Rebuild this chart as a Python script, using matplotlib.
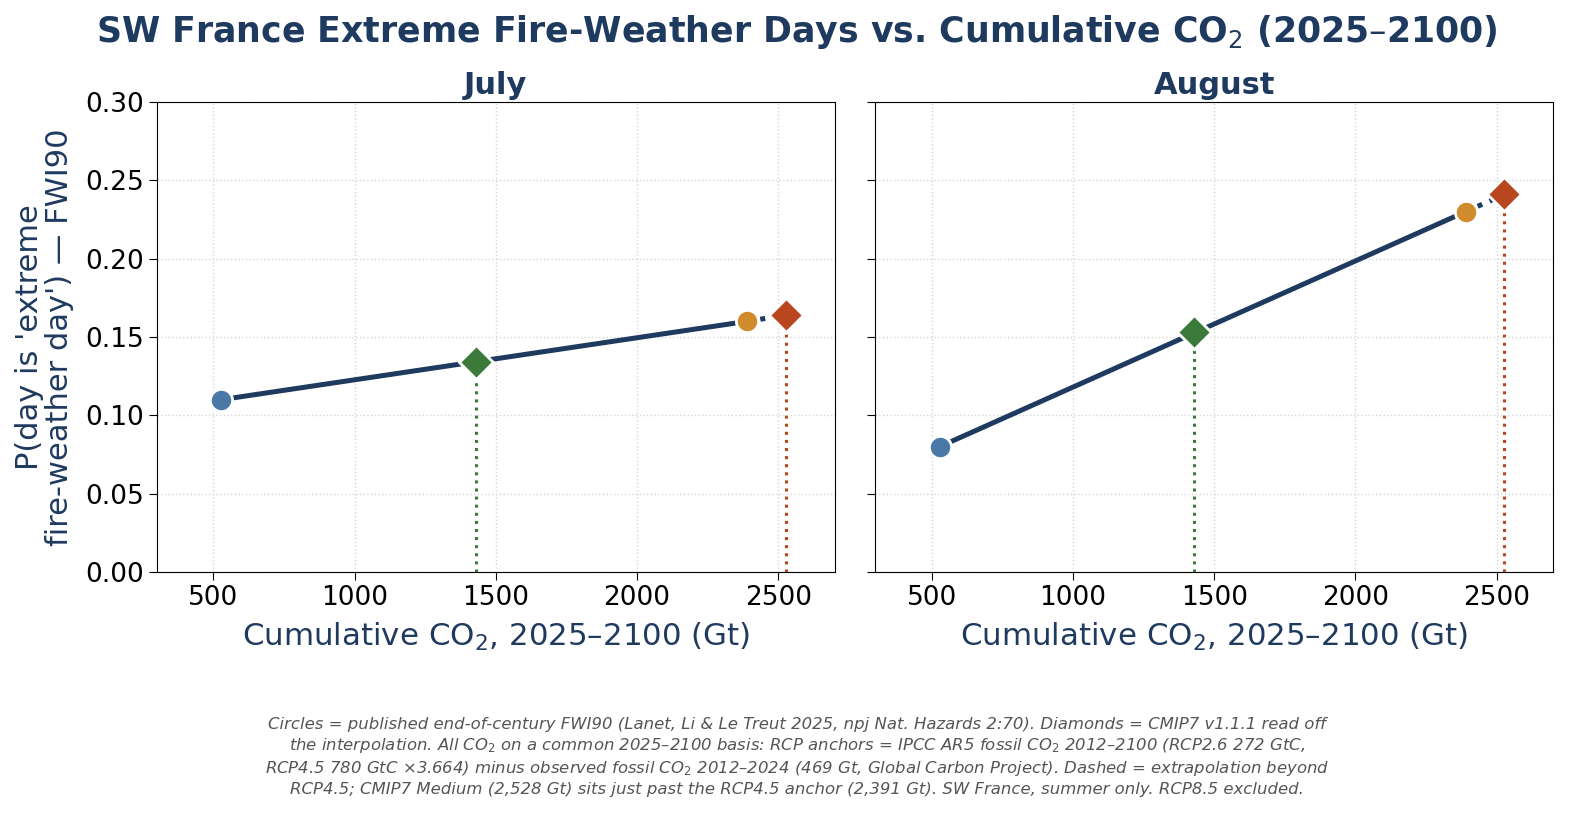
import matplotlib
matplotlib.use("Agg")
import matplotlib.pyplot as plt

# Data
co2 = [528, 1430, 2391, 2528]          # Gt, cumulative CO2 2025-2100
july = [0.110, 0.134, 0.160, 0.164]
august = [0.080, 0.153, 0.230, 0.241]
panels = ["July", "August"]
kinds = ["circle", "diamond", "circle", "diamond"]
colors = ["#4a79a8", "#3b7a3b", "#d08b2c", "#b8461e"]

NAVY = "#1f3a5f"

fig, axes = plt.subplots(1, 2, figsize=(15.94, 8.25), dpi=100, sharey=True)
fig.subplots_adjust(left=0.0985, right=0.9743, top=0.8764, bottom=0.3067, wspace=0.06)

for ax, name, vals in zip(axes, panels, [july, august]):
    ax.grid(True, linestyle=":", color="#d5d5d5", linewidth=1.0, zorder=0)
    # solid line between published circles
    ax.plot([co2[0], co2[2]], [vals[0], vals[2]], color=NAVY, lw=3.6, zorder=2,
            solid_capstyle="butt")
    # dashed extrapolation beyond RCP4.5
    ax.plot([co2[2], co2[3]], [vals[2], vals[3]], color=NAVY, lw=3.6, ls=(0, (1.0, 1.6)),
            zorder=2)
    for x, y, k, c in zip(co2, vals, kinds, colors):
        if k == "diamond":
            ax.plot([x, x], [0, y], color=c, ls=":", lw=2.2, zorder=1)
            ax.plot(x, y, marker="D", ms=17, color=c, mec="white", mew=2, zorder=4)
        else:
            ax.plot(x, y, marker="o", ms=16, color=c, mec="white", mew=2, zorder=4)
    ax.set_xlim(300, 2700)
    ax.set_ylim(0, 0.30)
    ax.set_xticks([500, 1000, 1500, 2000, 2500])
    ax.set_yticks([0, 0.05, 0.10, 0.15, 0.20, 0.25, 0.30])
    ax.yaxis.set_major_formatter(matplotlib.ticker.FormatStrFormatter("%.2f"))
    ax.tick_params(labelsize=19, length=6)
    ax.set_title(name, fontsize=22, fontweight="bold", color=NAVY, pad=6)
    ax.set_xlabel("Cumulative CO$_2$, 2025–2100 (Gt)", fontsize=22.2, color=NAVY, labelpad=7)

axes[0].set_ylabel("P(day is 'extreme\nfire-weather day') — FWI90", fontsize=22,
                   color=NAVY, labelpad=8, linespacing=1.05)

fig.suptitle("SW France Extreme Fire-Weather Days vs. Cumulative CO$_2$ (2025–2100)",
             fontsize=25, fontweight="bold", color=NAVY, y=0.961, va="center")

caption = ("Circles = published end-of-century FWI90 (Lanet, Li & Le Treut 2025, npj Nat. Hazards 2:70). "
           "Diamonds = CMIP7 v1.1.1 read off\nthe interpolation. All CO$_2$ on a common 2025–2100 basis: "
           "RCP anchors = IPCC AR5 fossil CO$_2$ 2012–2100 (RCP2.6 272 GtC,\nRCP4.5 780 GtC ×3.664) minus "
           "observed fossil CO$_2$ 2012–2024 (469 Gt, Global Carbon Project). Dashed = extrapolation beyond\n"
           "RCP4.5; CMIP7 Medium (2,528 Gt) sits just past the RCP4.5 anchor (2,391 Gt). SW France, summer only. "
           "RCP8.5 excluded.")
fig.text(0.5, 0.034, caption, ha="center", va="bottom", fontsize=11.85, style="italic",
         color="#555555", linespacing=1.3)

fig.savefig("out.png", dpi=100)
